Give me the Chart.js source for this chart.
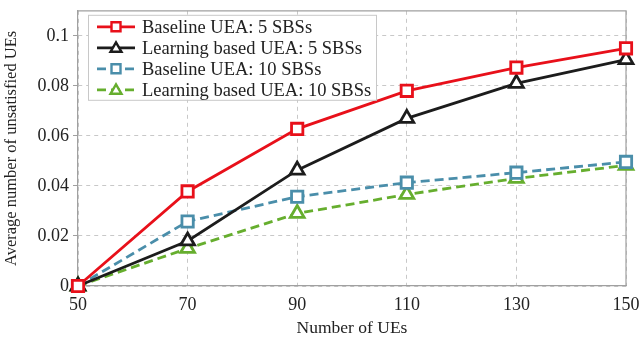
<!DOCTYPE html>
<html>
<head>
<meta charset="utf-8">
<script src="https://cdn.jsdelivr.net/npm/chart.js@4.4.0/dist/chart.umd.min.js"></script>
<style>
  html, body { margin: 0; padding: 0; background: #fff; }
  #wrap { width: 641px; height: 341px; }
</style>
</head>
<body>
<div id="wrap"><canvas id="chart" width="641" height="341"></canvas></div>
<script>
// number of UEs
const ues = [50, 70, 90, 110, 130, 150];
const yTicks = [0, 0.02, 0.04, 0.06, 0.08, 0.1];

const baseline5 = [0, 0.0378, 0.0628, 0.0780, 0.0873, 0.0950];
const learning5 = [0, 0.0180, 0.0463, 0.0670, 0.0810, 0.0905];
const baseline10 = [0, 0.0258, 0.0357, 0.0413, 0.0453, 0.0496];
const learning10 = [0, 0.0150, 0.0290, 0.0366, 0.0430, 0.0482];

const seriesNames = [
    'Baseline UEA: 5 SBSs',
    'Learning based UEA: 5 SBSs',
    'Baseline UEA: 10 SBSs',
    'Learning based UEA: 10 SBSs'
];

const FONT = '"Liberation Serif", "Times New Roman", serif';
const RED = '#e8101a', BLACK = '#1c1c1c', BLUE = '#4a8eaa', GREEN = '#66ae2e';
const FRAME = '#a0a0a0';

function pts(vals) {
    return ues.map((x, i) => ({ x: x, y: vals[i] }));
}

function makeSet(label, vals, color, shape, dashed) {
    return {
        label: label,
        data: pts(vals),
        borderColor: color,
        backgroundColor: color,
        borderWidth: 2.8,
        borderDash: dashed ? [9, 5] : [],
        pointStyle: shape,
        pointRadius: 8,
        pointBorderWidth: 2.8,
        pointBackgroundColor: '#fff',
        pointBorderColor: color,
        tension: 0
    };
}

// legend drawn inside the plot, top-left
const insideLegend = {
    id: 'insideLegend',
    afterDraw(chart) {
        const ctx = chart.ctx;
        const left = chart.chartArea.left + 10;
        const top = chart.chartArea.top + 4;
        const w = 288, h = 85;
        ctx.save();
        ctx.fillStyle = '#fff';
        ctx.fillRect(left, top, w, h);
        ctx.strokeStyle = '#c8c8c8';
        ctx.lineWidth = 1;
        ctx.strokeRect(left + 0.5, top + 0.5, w, h);
        chart.data.datasets.forEach((ds, i) => {
            const y = top + 12 + i * 21;
            ctx.strokeStyle = ds.borderColor;
            ctx.lineWidth = ds.borderWidth;
            ctx.setLineDash(ds.borderDash);
            ctx.beginPath();
            ctx.moveTo(left + 9, y);
            ctx.lineTo(left + 47, y);
            ctx.stroke();
            ctx.setLineDash([]);
            ctx.fillStyle = '#fff';
            ctx.strokeStyle = ds.borderColor;
            ctx.lineWidth = 2.4;
            ctx.beginPath();
            if (ds.pointStyle === 'rect') {
                ctx.rect(left + 28 - 4.5, y - 4.5, 9, 9);
            } else {
                ctx.moveTo(left + 28, y - 5.5);
                ctx.lineTo(left + 33.5, y + 4);
                ctx.lineTo(left + 22.5, y + 4);
                ctx.closePath();
            }
            ctx.fill();
            ctx.stroke();
            ctx.fillStyle = '#222';
            ctx.font = '18.5px ' + FONT;
            ctx.textBaseline = 'middle';
            ctx.fillText(ds.label, left + 54, y + 1);
        });
        ctx.restore();
    }
};

// top and right edges of the plot frame
const frame = {
    id: 'frame',
    beforeDatasetsDraw(chart) {
        const a = chart.chartArea;
        const ctx = chart.ctx;
        ctx.save();
        ctx.strokeStyle = FRAME;
        ctx.lineWidth = 1.2;
        ctx.beginPath();
        ctx.moveTo(a.left, a.top);
        ctx.lineTo(a.right, a.top);
        ctx.lineTo(a.right, a.bottom);
        ctx.stroke();
        ctx.restore();
    }
};

new Chart(document.getElementById('chart'), {
    type: 'line',
    data: {
        datasets: [
            makeSet(seriesNames[0], baseline5, RED, 'rect', false),
            makeSet(seriesNames[1], learning5, BLACK, 'triangle', false),
            makeSet(seriesNames[2], baseline10, BLUE, 'rect', true),
            makeSet(seriesNames[3], learning10, GREEN, 'triangle', true)
        ]
    },
    options: {
        responsive: false,
        animation: false,
        clip: false,
        layout: { padding: { top: 8, right: 15, left: 2, bottom: 2 } },
        plugins: {
            legend: { display: false },
            tooltip: { enabled: false }
        },
        scales: {
            x: {
                type: 'linear',
                min: 50,
                max: 150,
                afterBuildTicks(scale) {
                    scale.ticks = ues.map(v => ({ value: v }));
                },
                afterFit(scale) {
                    scale.height = 53;
                    scale.paddingLeft = 0;
                    scale.paddingRight = 0;
                },
                grid: {
                    color: '#c8c8c8',
                    lineWidth: 1,
                    drawTicks: false
                },
                border: { display: true, color: FRAME, width: 1.2, dash: [4, 4] },
                ticks: {
                    color: '#222',
                    font: { family: FONT, size: 18 },
                    padding: 8,
                    maxRotation: 0
                },
                title: {
                    display: true,
                    text: 'Number of UEs',
                    color: '#222',
                    font: { family: FONT, size: 17.5 },
                    padding: { top: 0, bottom: 0 }
                }
            },
            y: {
                min: 0,
                max: 0.11,
                afterBuildTicks(scale) {
                    scale.ticks = yTicks.map(v => ({ value: v }));
                },
                afterFit(scale) {
                    scale.width = 76;
                    scale.paddingTop = 0;
                    scale.paddingBottom = 0;
                },
                grid: {
                    color: '#c8c8c8',
                    lineWidth: 1,
                    tickLength: 5,
                    tickColor: FRAME,
                    tickBorderDash: []
                },
                border: { display: true, color: FRAME, width: 1.2, dash: [4, 4] },
                ticks: {
                    color: '#222',
                    font: { family: FONT, size: 18 },
                    padding: 4,
                    callback: v => String(+v.toFixed(2))
                },
                title: {
                    display: true,
                    text: 'Average number of unsatisfied UEs',
                    color: '#222',
                    font: { family: FONT, size: 16.5 },
                    padding: { top: 0, bottom: 2 }
                }
            }
        }
    },
    plugins: [frame, insideLegend]
});
</script>
</body>
</html>
